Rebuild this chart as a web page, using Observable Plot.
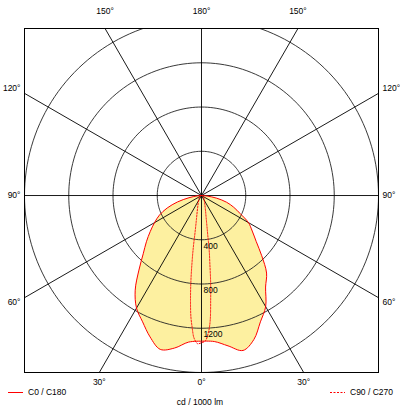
<!DOCTYPE html>
<html><head><meta charset="utf-8">
<script src="https://cdn.jsdelivr.net/npm/d3@7"></script>
<script src="https://cdn.jsdelivr.net/npm/@observablehq/plot@0.6"></script>
<style>
body{margin:0;background:#fff;font-family:"Liberation Sans",Arial,sans-serif;}
#wrap{position:relative;width:400px;height:410px;overflow:hidden;}
.leg{position:absolute;font-size:8.5px;color:#000;line-height:10px;display:flex;align-items:center;white-space:nowrap;}
.cap{position:absolute;left:0;width:400px;text-align:center;font-size:8.5px;line-height:10px;color:#000;}
</style></head>
<body><div id="wrap"><div id="chart"></div>
<div class="leg" style="left:8px;top:387px"><svg width="15" height="10"><line x1="0" x2="15" y1="5.5" y2="5.5" stroke="#ff0000" stroke-width="1"/></svg><span style="margin-left:5px">C0 / C180</span></div>
<div class="leg" style="right:7px;top:387px"><svg width="15" height="10"><line x1="0" x2="15" y1="5.5" y2="5.5" stroke="#ff0000" stroke-width="1" stroke-dasharray="2,1.5"/></svg><span style="margin-left:5px">C90 / C270</span></div>
<div class="cap" style="top:397px">cd / 1000 lm</div>
</div>
<script>
// ---- data (cd / 1000 lm) ----
const gammaC0 = [0,5,10,15,20,25,30,35,40,45,50,55,60,65,70,75,80,85,90];
const c0   = [1317,1325,1380,1450,1385,1260,1160,1010,915,770,645,560,490,385,310,235,140,50,0];
const c180 = [1317,1330,1400,1440,1360,1260,1175,1045,880,745,650,565,490,420,330,225,115,40,0];
const gammaC90 = [0,1.5,3,4,5,6,7,8,9,10,12,15,20,25,30,40,50,60,75,90];
const c90  = [1330,1315,1230,1130,950,790,620,500,360,285,200,140,90,65,50,35,25,18,10,0];
const c270 = [1330,1340,1290,1200,1100,950,790,620,470,330,220,150,95,70,50,35,25,18,10,0];
const angleTicks = [0,30,60,90,120,150,180,210,240,270,300,330];
const ringValues = [400,800,1200,1600];
const ringLabels = [400,800,1200];

const xMin=-1600, xMax=1600, yMin=-1600, yMax=1510;
const rad = d => d*Math.PI/180;

function hit(theta){
  const dx=Math.sin(rad(theta)), dy=-Math.cos(rad(theta));
  let t=Infinity, edge="";
  const test=(tt,e)=>{ if(tt<t){t=tt;edge=e;} };
  if(dx>1e-9) test(xMax/dx,"right");
  if(dx<-1e-9) test(xMin/dx,"left");
  if(dy>1e-9) test(yMax/dy,"top");
  if(dy<-1e-9) test(yMin/dy,"bottom");
  return {x:dx*t, y:dy*t, edge, label:(theta<=180?theta:360-theta)+"°"};
}

// outline polygons
const solid = [];
for(let i=gammaC0.length-1;i>=0;i--) solid.push({x:-c180[i]*Math.sin(rad(gammaC0[i])), y:-c180[i]*Math.cos(rad(gammaC0[i]))});
for(let i=0;i<gammaC0.length;i++) solid.push({x:c0[i]*Math.sin(rad(gammaC0[i])), y:-c0[i]*Math.cos(rad(gammaC0[i]))});
const dotted = [];
for(let i=gammaC90.length-1;i>=0;i--) dotted.push({x:-c270[i]*Math.sin(rad(gammaC90[i])), y:-c270[i]*Math.cos(rad(gammaC90[i]))});
for(let i=0;i<gammaC90.length;i++) dotted.push({x:c90[i]*Math.sin(rad(gammaC90[i])), y:-c90[i]*Math.cos(rad(gammaC90[i]))});

const rings=[];
for(const r of ringValues) for(let a=0;a<=360;a+=2) rings.push({r, x:r*Math.sin(rad(a)), y:r*Math.cos(rad(a))});

const spokes = angleTicks.filter(a=>a<180).map(a=>{const p=hit(a), q=hit(a+180); return {x1:p.x,y1:p.y,x2:q.x,y2:q.y};});
const tickLabs = angleTicks.map(hit);

const chart = Plot.plot({
  width:400, height:386,
  marginLeft:24, marginRight:22, marginTop:28, marginBottom:14,
  x:{domain:[xMin,xMax], axis:null},
  y:{domain:[yMin,yMax], axis:null},
  style:{fontFamily:"'Liberation Sans', Arial, sans-serif", fontSize:"8.5px", background:"#fff", color:"#000"},
  marks:[
    Plot.line(solid,{x:"x",y:"y",fill:"#fdf0a0",stroke:"none",curve:"catmull-rom"}),
    Plot.line(rings,{x:"x",y:"y",z:"r",stroke:"#222",strokeWidth:0.9,clip:true}),
    Plot.link(spokes,{x1:"x1",y1:"y1",x2:"x2",y2:"y2",stroke:"#000",strokeWidth:0.9}),
    Plot.line(solid,{x:"x",y:"y",stroke:"#ff0000",strokeWidth:1,curve:"catmull-rom"}),
    Plot.line(dotted,{x:"x",y:"y",stroke:"#ff0000",strokeWidth:1,strokeDasharray:"1.5,1.5",curve:"catmull-rom"}),
    Plot.frame({stroke:"#000",strokeWidth:1}),
    Plot.text(ringLabels,{x:0,y:d=>-d,text:d=>String(d),textAnchor:"start",dx:2,dy:6,fill:"#000"}),
    Plot.text(tickLabs.filter(d=>d.edge==="top"),{x:"x",y:"y",text:"label",dy:-17}),
    Plot.text(tickLabs.filter(d=>d.edge==="bottom"),{x:"x",y:"y",text:"label",dy:10}),
    Plot.text(tickLabs.filter(d=>d.edge==="left"&&d.y>1),{x:"x",y:"y",text:"label",textAnchor:"end",dx:-4,dy:-5}),
    Plot.text(tickLabs.filter(d=>d.edge==="left"&&Math.abs(d.y)<=1),{x:"x",y:"y",text:"label",textAnchor:"end",dx:-4}),
    Plot.text(tickLabs.filter(d=>d.edge==="left"&&d.y<-1),{x:"x",y:"y",text:"label",textAnchor:"end",dx:-4,dy:5}),
    Plot.text(tickLabs.filter(d=>d.edge==="right"&&d.y>1),{x:"x",y:"y",text:"label",textAnchor:"start",dx:4,dy:-5}),
    Plot.text(tickLabs.filter(d=>d.edge==="right"&&Math.abs(d.y)<=1),{x:"x",y:"y",text:"label",textAnchor:"start",dx:4}),
    Plot.text(tickLabs.filter(d=>d.edge==="right"&&d.y<-1),{x:"x",y:"y",text:"label",textAnchor:"start",dx:4,dy:5})
  ]
});
document.getElementById("chart").appendChild(chart);
</script>
</body></html>
